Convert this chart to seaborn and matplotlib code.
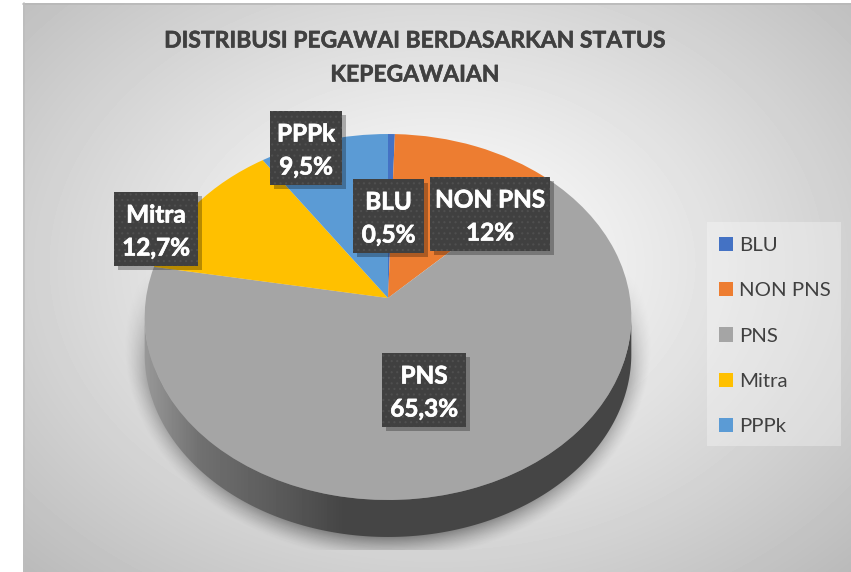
import numpy as np
import matplotlib
matplotlib.use("Agg")
import matplotlib.pyplot as plt
import matplotlib.patheffects as pe
from matplotlib.patches import Patch, Polygon, Rectangle
from matplotlib.transforms import Transform
import seaborn as sns

categories = ["BLU", "NON PNS", "PNS", "Mitra", "PPPk"]
values = [0.5, 12, 65.3, 12.7, 9.5]
value_labels = ["0,5%", "12%", "65,3%", "12,7%", "9,5%"]
colors = ["#4472C4", "#ED7D31", "#A5A5A5", "#FFC000", "#5B9BD5"]
title_lines = ["DISTRIBUSI PEGAWAI BERDASARKAN STATUS", "KEPEGAWAIAN"]

sns.set_theme(style="white")
plt.rcParams["font.family"] = ["Lato", "DejaVu Sans"]
plt.rcParams["hatch.linewidth"] = 0.8
palette = sns.color_palette(colors)

W, H = 851, 572
fig = plt.figure(figsize=(W / 100, H / 100), dpi=100, facecolor="white")
ax = fig.add_axes([0, 0, 1, 1])

# Tilted-disc projection from the unit pie to pixel coordinates
APEX_X, APEX_Y, AX, BY, K, DEPTH = 388, 298, 242, 181, 0.1038, 37


class Tilt(Transform):
    input_dims = output_dims = 2

    def __init__(self, dy=0):
        super().__init__()
        self.dy = dy

    def transform_non_affine(self, v):
        v = np.asarray(v, float)
        d = 1 + K * v[:, 1]
        return np.column_stack((APEX_X + AX * v[:, 0] / d,
                                APEX_Y - BY * v[:, 1] / d + self.dy))


wedges, _ = ax.pie(values, colors=palette, startangle=90, counterclock=False,
                   radius=1, wedgeprops=dict(linewidth=0))
ax.set_aspect("auto")
ax.set_xlim(0, W)
ax.set_ylim(H, 0)
ax.set_axis_off()
for w in wedges:
    w.set_transform(Tilt() + ax.transData)
    w.set_zorder(5)
    w.set_clip_on(False)

# Background gradient
yy, xx = np.mgrid[0.5:H, 0.5:W]
r = np.sqrt(((xx - 437) / 414) ** 2 + ((yy - 265) / 305) ** 2) / np.sqrt(2)
shade = 1 - 0.27 * np.clip(r, 0, 1.05) ** 1.15
L, T = 23, 3
ax.imshow(shade, cmap="gray", vmin=0, vmax=1, extent=(0, W, H, 0),
          aspect="auto", zorder=0, interpolation="bilinear")
ax.add_patch(Rectangle((0, 0), L, H, fc="white", ec="none", zorder=1))
ax.add_patch(Rectangle((0, 0), W, T, fc="white", ec="none", zorder=1))
ax.plot([L, W], [T + 0.5, T + 0.5], color="#b8b8b8", lw=1.2, zorder=1.1)
ax.plot([L + 0.5, L + 0.5], [T, H], color="#bdbdbd", lw=1.2, zorder=1.1)

# Soft cast shadow below the disc
sx, sy = 388, 345
sr = np.sqrt(((xx - sx) / 254) ** 2 + ((yy - sy) / 207) ** 2)
alpha = np.clip((1.04 - sr) / 0.12, 0, 1) ** 1.4 * 0.45
alpha *= np.clip((yy - 270) / 110, 0, 1)
alpha[yy > 550] = 0
rgba = np.zeros((H, W, 4))
rgba[..., 3] = alpha
ax.imshow(rgba, extent=(0, W, H, 0), aspect="auto", zorder=2)
ax.set_xlim(0, W)
ax.set_ylim(H, 0)

# Side wall with a left-to-right gradient
t = np.linspace(0, 2 * np.pi, 721)
rim = Tilt().transform_non_affine(np.column_stack((np.cos(t), np.sin(t))))
lower = rim[rim[:, 1] >= 315]
lower = lower[np.argsort(lower[:, 0])]
wall = np.vstack((lower, (lower + [0, DEPTH])[::-1]))
wall_patch = Polygon(wall, closed=True, transform=ax.transData, fc="none", ec="none")
ax.add_patch(wall_patch)
grad = np.interp(xx[0], [144, 200, 290, 345, 851], [0.60, 0.44, 0.34, 0.27, 0.27])
im = ax.imshow(grad[None, :], cmap="gray", vmin=0, vmax=1, extent=(0, W, H, 0),
               aspect="auto", zorder=3)
im.set_clip_path(wall_patch)
ax.set_xlim(0, W)
ax.set_ylim(H, 0)

# Data labels: x, y, width, height of each dark box
boxes = [(353, 179, 71, 74), (430, 177, 120, 74), (382, 353, 84, 74),
         (114, 192, 84, 74), (270, 111, 72, 74)]
thick = [pe.withStroke(linewidth=0.5, foreground="white")]
for (x, y, bw, bh), name, lab in zip(boxes, categories, value_labels):
    ax.add_patch(Rectangle((x + 4, y + 4), bw, bh, fc="#000000", alpha=0.28,
                           ec="none", zorder=6))
    ax.add_patch(Rectangle((x, y), bw, bh, fc="#404040", ec="#404040", lw=0,
                           zorder=7))
    ax.add_patch(Rectangle((x, y), bw, bh, fc="none", ec="#4f4f4f", lw=0,
                           hatch="...", zorder=7.5))
    ax.text(x + bw / 2, y + 23, name, color="white", fontsize=17.5,
            fontweight="bold", ha="center", va="center", zorder=8,
            path_effects=thick)
    ax.text(x + bw / 2, y + 56, lab, color="white", fontsize=17.5,
            fontweight="bold", ha="center", va="center", zorder=8,
            path_effects=thick)

# Title
for line, y in zip(title_lines, (41, 75)):
    ax.text(415, y, line, color="#404040", fontsize=16.5, fontweight="bold",
            ha="center", va="center", zorder=8,
            path_effects=[pe.withStroke(linewidth=0.4, foreground="#404040")])

# Legend
ax.add_patch(Rectangle((707, 222), 134, 224, fc="white", alpha=0.3, ec="none", zorder=4))
handles = [Patch(fc=c, ec="none") for c in palette]
leg = ax.legend(handles, categories, loc="upper left",
                bbox_to_anchor=(719 / W, 1 - 237 / H), frameon=False,
                fontsize=14.7, labelcolor="#404040", handlelength=0.69,
                handleheight=0.69, handletextpad=0.29, labelspacing=1.37,
                borderpad=0, borderaxespad=0)
leg.set_zorder(9)

fig.savefig("out.png", dpi=100, facecolor="white")
